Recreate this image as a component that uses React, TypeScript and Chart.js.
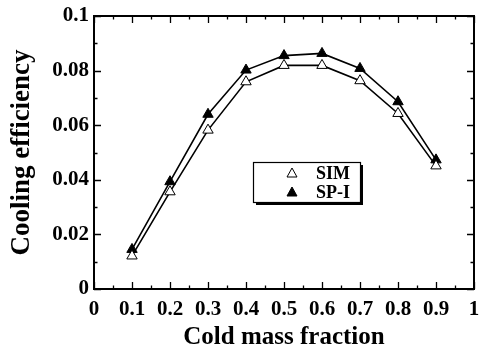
import React, { useEffect, useRef } from "react";
import { Chart, registerables } from "chart.js";

Chart.register(...registerables);

const coldMassFraction = [0.1, 0.2, 0.3, 0.4, 0.5, 0.6, 0.7, 0.8, 0.9];
const simValues = [0.0121, 0.0356, 0.0582, 0.0759, 0.0819, 0.0819, 0.0763, 0.0643, 0.0451];
const spValues = [0.0145, 0.0393, 0.064, 0.0802, 0.0855, 0.0863, 0.0808, 0.0686, 0.0473];
const seriesLabels = ["SIM", "SP-I"];
const xTickValues = [0, 0.1, 0.2, 0.3, 0.4, 0.5, 0.6, 0.7, 0.8, 0.9, 1];
const yTickValues = [0, 0.02, 0.04, 0.06, 0.08, 0.1];

const FONT = "'Liberation Serif', 'Times New Roman', serif";

const frameTicks = {
  id: "frameTicks",
  afterDatasetsDraw(chart: any) {
    const { ctx, chartArea: a, scales } = chart;
    const xs = scales.x;
    const ys = scales.y;
    ctx.save();
    ctx.strokeStyle = "#000";
    ctx.lineWidth = 1.3;
    for (let i = 0; i <= 20; i++) {
      const v = i * 0.05;
      const px = Math.round(xs.getPixelForValue(v)) + 0.5;
      const len = i % 2 === 0 ? 7 : 3.5;
      ctx.beginPath();
      ctx.moveTo(px, a.bottom);
      ctx.lineTo(px, a.bottom - len);
      ctx.moveTo(px, a.top);
      ctx.lineTo(px, a.top + len);
      ctx.stroke();
    }
    for (let i = 0; i <= 10; i++) {
      const v = i * 0.01;
      const py = Math.round(ys.getPixelForValue(v)) + 0.5;
      const len = i % 2 === 0 ? 7 : 3.5;
      ctx.beginPath();
      ctx.moveTo(a.left, py);
      ctx.lineTo(a.left + len, py);
      ctx.moveTo(a.right, py);
      ctx.lineTo(a.right - len, py);
      ctx.stroke();
    }
    ctx.lineWidth = 2;
    ctx.strokeRect(a.left, a.top, a.right - a.left, a.bottom - a.top);

    // legend box
    const lx = Math.round(xs.getPixelForValue(0.418));
    const ly = Math.round(ys.getPixelForValue(0.0465));
    const lw = 107;
    const lh = 40;
    ctx.fillStyle = "#000";
    ctx.fillRect(lx + 3, ly + 3, lw, lh);
    ctx.fillStyle = "#fff";
    ctx.fillRect(lx, ly, lw, lh);
    ctx.lineWidth = 1.2;
    ctx.strokeStyle = "#000";
    ctx.strokeRect(lx + 0.5, ly + 0.5, lw, lh);
    const datasets = chart.data.datasets;
    datasets.forEach((ds: any, i: number) => {
      const cy = ly + 11 + i * 19;
      const cx = lx + 39;
      const r = 5;
      ctx.beginPath();
      ctx.moveTo(cx, cy - r);
      ctx.lineTo(cx + r, cy + r * 0.8);
      ctx.lineTo(cx - r, cy + r * 0.8);
      ctx.closePath();
      ctx.fillStyle = ds.pointBackgroundColor;
      ctx.fill();
      ctx.lineWidth = 1;
      ctx.strokeStyle = "#000";
      ctx.stroke();
      ctx.fillStyle = "#000";
      ctx.font = `bold 18px ${FONT}`;
      ctx.textBaseline = "middle";
      ctx.textAlign = "left";
      ctx.fillText(ds.label, lx + 63, cy + 1);
    });
    ctx.restore();
  },
};

export default function App() {
  const ref = useRef<HTMLCanvasElement | null>(null);
  useEffect(() => {
    if (!ref.current) return;
    const chart = new Chart(ref.current, {
      type: "scatter",
      data: {
        datasets: [
          {
            label: seriesLabels[0],
            data: coldMassFraction.map((x, i) => ({ x, y: simValues[i] })),
            showLine: true,
            borderColor: "#000",
            borderWidth: 1.6,
            pointStyle: "triangle",
            pointRadius: 6,
            pointBackgroundColor: "#fff",
            pointBorderColor: "#000",
            pointBorderWidth: 1,
          },
          {
            label: seriesLabels[1],
            data: coldMassFraction.map((x, i) => ({ x, y: spValues[i] })),
            showLine: true,
            borderColor: "#000",
            borderWidth: 1.6,
            pointStyle: "triangle",
            pointRadius: 6,
            pointBackgroundColor: "#000",
            pointBorderColor: "#000",
            pointBorderWidth: 1,
          },
        ],
      },
      options: {
        animation: false,
        responsive: false,
        maintainAspectRatio: false,
        layout: { padding: { left: 0, top: 16, right: 4, bottom: 0 } },
        plugins: { legend: { display: false }, tooltip: { enabled: false } },
        scales: {
          x: {
            type: "linear",
            min: 0,
            max: 1,
            afterBuildTicks: (s: any) => {
              s.ticks = xTickValues.map((v) => ({ value: v }));
            },
            afterFit: (s: any) => {
              s.height = 69;
              s.paddingLeft = 0;
              s.paddingRight = 0;
            },
            grid: { display: false, drawTicks: false },
            border: { display: false },
            ticks: {
              color: "#000",
              padding: 8,
              maxRotation: 0,
              autoSkip: false,
              font: { family: FONT, size: 21, weight: "bold" },
              callback: (v: any) => String(Number(v)),
            },
            title: {
              display: true,
              text: "Cold mass fraction",
              color: "#000",
              font: { family: FONT, size: 25, weight: "bold" },
              padding: { top: 0, bottom: 5 },
            },
          },
          y: {
            type: "linear",
            min: 0,
            max: 0.1,
            afterBuildTicks: (s: any) => {
              s.ticks = yTickValues.map((v) => ({ value: v }));
            },
            afterFit: (s: any) => {
              s.width = 94;
              s.paddingTop = 0;
              s.paddingBottom = 0;
            },
            grid: { display: false, drawTicks: false },
            border: { display: false },
            ticks: {
              color: "#000",
              padding: 5,
              font: { family: FONT, size: 21, weight: "bold" },
              callback: (v: any) => String(Number(Number(v).toFixed(2))),
            },
            title: {
              display: true,
              text: "Cooling efficiency",
              color: "#000",
              font: { family: FONT, size: 27, weight: "bold" },
              padding: { top: 6, bottom: 0 },
            },
          },
        },
      },
      plugins: [frameTicks],
    } as any);
    return () => chart.destroy();
  }, []);
  return (
    <div style={{ position: "fixed", left: 0, top: 0, width: 481, height: 358, background: "#fff" }}>
      <canvas ref={ref} width={481} height={358} style={{ display: "block", width: 481, height: 358 }} />
    </div>
  );
}
